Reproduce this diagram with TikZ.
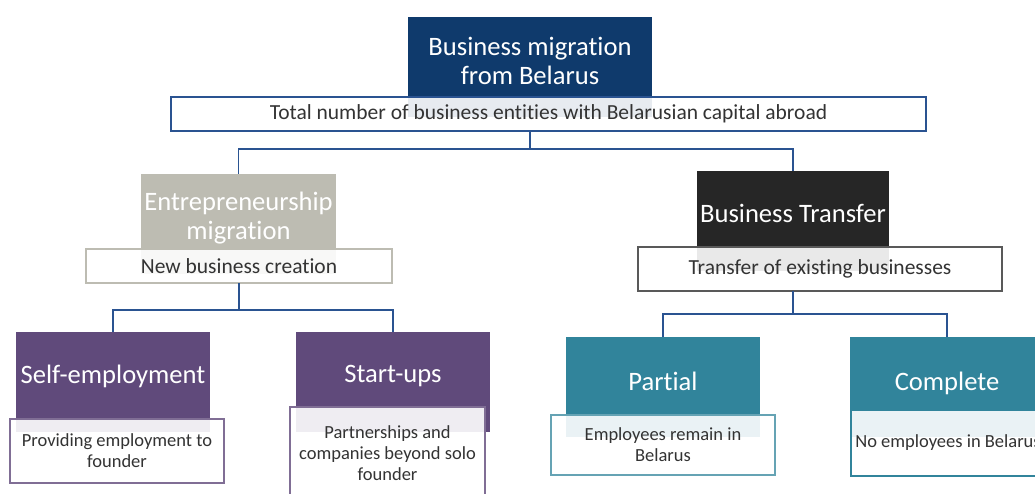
\documentclass[tikz,border=0pt]{standalone}
\usepackage{fontspec}
\setmainfont{Carlito}[Ligatures=NoCommon]
\usepackage{tikz}
\tikzset{
  every node/.style = {
    inner sep = 0pt,
    outer sep = 0pt
  }
}
\definecolor{migrnavy}{HTML}{0F3A6C}
\definecolor{migrgray}{HTML}{BDBCB2}
\definecolor{migrblack}{HTML}{262626}
\definecolor{migrpurple}{HTML}{604A7B}
\definecolor{migrteal}{HTML}{31849B}
\definecolor{linkblue}{HTML}{2A5391}
\definecolor{bodytext}{HTML}{333333}

\begin{document}
\begin{tikzpicture}[
        x = 1pt,
        y = -1pt,
        headbox/.style = {
          fill = #1,
          minimum width = 194pt,
          minimum height = 100pt,
        },
        headtext/.style = {
          text = white,
          align = center,
          yshift = 6pt,
          font = \fontsize{26.6}{29}\selectfont,
        },
        subbox/.style = {
          draw = #1,
          line width = 1.3pt,
          fill = white,
          fill opacity = 0.9,
          text opacity = 1,
          text = bodytext,
          align = center,
        },
        midtext/.style = {
          font = \fontsize{21.5}{25}\selectfont,
        },
        lowtext/.style = {
          font = \fontsize{18.5}{21}\selectfont,
        },
        link/.style = {
          draw = linkblue,
          line width = 1.6pt,
        },
        ]
        \useasboundingbox (0,0) rectangle (1035,493);
        \clip (0,0) rectangle (1035,493);

        % coloured heads
        \node [headbox=migrnavy, minimum width=244pt, name=migration,
          label={[headtext]center:Business migration\\from Belarus}] at (530,67) {};
        \node [headbox=migrgray, minimum width=195pt, name=entre,
          label={[headtext]center:Entrepreneurship\\migration}] at (238.5,224) {};
        \node [headbox=migrblack, minimum width=192pt, name=transfer,
          label={[headtext, yshift=2pt]center:Business Transfer}] at (793,221) {};
        \node [headbox=migrpurple, name=selfemp,
          label={[headtext]center:Self-employment}] at (113,382) {};
        \node [headbox=migrpurple, name=startups,
          label={[headtext]center:Start-ups}] at (393,382) {};
        \node [headbox=migrteal, name=partial,
          label={[headtext]center:Partial}] at (663,387) {};
        \node [headbox=migrteal, name=complete,
          label={[headtext, yshift=-2pt]center:Complete}] at (947,387) {};

        % white text boxes
        \node [subbox=linkblue, midtext, minimum width=755pt,
          minimum height=34pt, name=total] at (548.5,114)
          {Total number of business entities with Belarusian capital abroad};
        \node [subbox=migrgray, midtext, minimum width=306pt,
          minimum height=34pt, name=newbiz] at (239,266)
          {New business creation};
        \node [subbox=black!65, midtext, minimum width=364pt,
          minimum height=44pt, name=existing] at (820,269)
          {Transfer of existing businesses};
        \node [subbox=migrpurple!80, lowtext, minimum width=214pt,
          minimum height=64pt, name=founder] at (117,451)
          {Providing employment to\\founder};
        \node [subbox=migrpurple!80, lowtext, minimum width=195pt,
          minimum height=92pt, name=beyond] at (387.5,453)
          {Partnerships and\\companies beyond solo\\founder};
        \node [subbox=migrteal!75, lowtext, minimum width=224pt,
          minimum height=60pt, name=remain] at (663,445)
          {Employees remain in\\Belarus};
        \node [subbox=migrteal, lowtext, minimum width=194pt,
          minimum height=66pt, name=noemp] at (948,443)
          {No employees in Belarus};

        % connectors
        \coordinate (top-split) at (530,149);
        \coordinate (left-split) at (239,310);
        \coordinate (right-split) at (793,314);
        \draw [link] (total.south -| top-split) -- (top-split) -| (entre.north);
        \draw [link] (top-split) -| (transfer.north);
        \draw [link] (newbiz.south -| left-split) -- (left-split) -| (selfemp.north);
        \draw [link] (left-split) -| (startups.north);
        \draw [link] (existing.south -| right-split) -- (right-split) -| (partial.north);
        \draw [link] (right-split) -| (complete.north);
      \end{tikzpicture}
\end{document}
